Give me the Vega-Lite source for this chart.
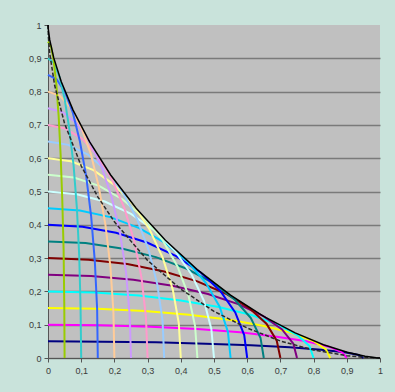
{
  "$schema": "https://vega.github.io/schema/vega-lite/v6.json",
  "width": 332,
  "height": 333,
  "autosize": {"type": "none"},
  "padding": {"left": 48, "top": 25, "right": 15, "bottom": 34},
  "background": "#C9E3DB",
  "config": {"view": {"fill": "#C0C0C0", "stroke": null}},
  "datasets": {
    "ell": [
      {"k":1,"x":0.95,"y":0},{"k":1,"x":0.936,"y":0.009},{"k":1,"x":0.893,"y":0.017},{"k":1,"x":0.823,"y":0.025},{"k":1,"x":0.728,"y":0.032},{"k":1,"x":0.611,"y":0.038},{"k":1,"x":0.475,"y":0.043},{"k":1,"x":0.325,"y":0.047},{"k":1,"x":0.165,"y":0.049},{"k":1,"x":0,"y":0.05},
      {"k":2,"x":0.9,"y":0},{"k":2,"x":0.886,"y":0.017},{"k":2,"x":0.846,"y":0.034},{"k":2,"x":0.779,"y":0.05},{"k":2,"x":0.689,"y":0.064},{"k":2,"x":0.579,"y":0.077},{"k":2,"x":0.45,"y":0.087},{"k":2,"x":0.308,"y":0.094},{"k":2,"x":0.156,"y":0.098},{"k":2,"x":0,"y":0.1},
      {"k":3,"x":0.85,"y":0},{"k":3,"x":0.837,"y":0.026},{"k":3,"x":0.799,"y":0.051},{"k":3,"x":0.736,"y":0.075},{"k":3,"x":0.651,"y":0.096},{"k":3,"x":0.546,"y":0.115},{"k":3,"x":0.425,"y":0.13},{"k":3,"x":0.291,"y":0.141},{"k":3,"x":0.148,"y":0.148},{"k":3,"x":0,"y":0.15},
      {"k":4,"x":0.8,"y":0},{"k":4,"x":0.788,"y":0.035},{"k":4,"x":0.752,"y":0.068},{"k":4,"x":0.693,"y":0.1},{"k":4,"x":0.613,"y":0.129},{"k":4,"x":0.514,"y":0.153},{"k":4,"x":0.4,"y":0.173},{"k":4,"x":0.274,"y":0.188},{"k":4,"x":0.139,"y":0.197},{"k":4,"x":0,"y":0.2},
      {"k":5,"x":0.75,"y":0},{"k":5,"x":0.739,"y":0.043},{"k":5,"x":0.705,"y":0.086},{"k":5,"x":0.65,"y":0.125},{"k":5,"x":0.575,"y":0.161},{"k":5,"x":0.482,"y":0.192},{"k":5,"x":0.375,"y":0.217},{"k":5,"x":0.257,"y":0.235},{"k":5,"x":0.13,"y":0.246},{"k":5,"x":0,"y":0.25},
      {"k":6,"x":0.7,"y":0},{"k":6,"x":0.689,"y":0.052},{"k":6,"x":0.658,"y":0.103},{"k":6,"x":0.606,"y":0.15},{"k":6,"x":0.536,"y":0.193},{"k":6,"x":0.45,"y":0.23},{"k":6,"x":0.35,"y":0.26},{"k":6,"x":0.239,"y":0.282},{"k":6,"x":0.122,"y":0.295},{"k":6,"x":0,"y":0.3},
      {"k":7,"x":0.65,"y":0},{"k":7,"x":0.64,"y":0.061},{"k":7,"x":0.611,"y":0.12},{"k":7,"x":0.563,"y":0.175},{"k":7,"x":0.498,"y":0.225},{"k":7,"x":0.418,"y":0.268},{"k":7,"x":0.325,"y":0.303},{"k":7,"x":0.222,"y":0.329},{"k":7,"x":0.113,"y":0.345},{"k":7,"x":0,"y":0.35},
      {"k":8,"x":0.6,"y":0},{"k":8,"x":0.591,"y":0.069},{"k":8,"x":0.564,"y":0.137},{"k":8,"x":0.52,"y":0.2},{"k":8,"x":0.46,"y":0.257},{"k":8,"x":0.386,"y":0.306},{"k":8,"x":0.3,"y":0.346},{"k":8,"x":0.205,"y":0.376},{"k":8,"x":0.104,"y":0.394},{"k":8,"x":0,"y":0.4},
      {"k":9,"x":0.55,"y":0},{"k":9,"x":0.542,"y":0.078},{"k":9,"x":0.517,"y":0.154},{"k":9,"x":0.476,"y":0.225},{"k":9,"x":0.421,"y":0.289},{"k":9,"x":0.354,"y":0.345},{"k":9,"x":0.275,"y":0.39},{"k":9,"x":0.188,"y":0.423},{"k":9,"x":0.096,"y":0.443},{"k":9,"x":0,"y":0.45},
      {"k":10,"x":0.5,"y":0},{"k":10,"x":0.492,"y":0.087},{"k":10,"x":0.47,"y":0.171},{"k":10,"x":0.433,"y":0.25},{"k":10,"x":0.383,"y":0.321},{"k":10,"x":0.321,"y":0.383},{"k":10,"x":0.25,"y":0.433},{"k":10,"x":0.171,"y":0.47},{"k":10,"x":0.087,"y":0.492},{"k":10,"x":0,"y":0.5},
      {"k":11,"x":0.45,"y":0},{"k":11,"x":0.443,"y":0.096},{"k":11,"x":0.423,"y":0.188},{"k":11,"x":0.39,"y":0.275},{"k":11,"x":0.345,"y":0.354},{"k":11,"x":0.289,"y":0.421},{"k":11,"x":0.225,"y":0.476},{"k":11,"x":0.154,"y":0.517},{"k":11,"x":0.078,"y":0.542},{"k":11,"x":0,"y":0.55},
      {"k":12,"x":0.4,"y":0},{"k":12,"x":0.394,"y":0.104},{"k":12,"x":0.376,"y":0.205},{"k":12,"x":0.346,"y":0.3},{"k":12,"x":0.306,"y":0.386},{"k":12,"x":0.257,"y":0.46},{"k":12,"x":0.2,"y":0.52},{"k":12,"x":0.137,"y":0.564},{"k":12,"x":0.069,"y":0.591},{"k":12,"x":0,"y":0.6},
      {"k":13,"x":0.35,"y":0},{"k":13,"x":0.345,"y":0.113},{"k":13,"x":0.329,"y":0.222},{"k":13,"x":0.303,"y":0.325},{"k":13,"x":0.268,"y":0.418},{"k":13,"x":0.225,"y":0.498},{"k":13,"x":0.175,"y":0.563},{"k":13,"x":0.12,"y":0.611},{"k":13,"x":0.061,"y":0.64},{"k":13,"x":0,"y":0.65},
      {"k":14,"x":0.3,"y":0},{"k":14,"x":0.295,"y":0.122},{"k":14,"x":0.282,"y":0.239},{"k":14,"x":0.26,"y":0.35},{"k":14,"x":0.23,"y":0.45},{"k":14,"x":0.193,"y":0.536},{"k":14,"x":0.15,"y":0.606},{"k":14,"x":0.103,"y":0.658},{"k":14,"x":0.052,"y":0.689},{"k":14,"x":0,"y":0.7},
      {"k":15,"x":0.25,"y":0},{"k":15,"x":0.246,"y":0.13},{"k":15,"x":0.235,"y":0.257},{"k":15,"x":0.217,"y":0.375},{"k":15,"x":0.192,"y":0.482},{"k":15,"x":0.161,"y":0.575},{"k":15,"x":0.125,"y":0.65},{"k":15,"x":0.086,"y":0.705},{"k":15,"x":0.043,"y":0.739},{"k":15,"x":0,"y":0.75},
      {"k":16,"x":0.2,"y":0},{"k":16,"x":0.197,"y":0.139},{"k":16,"x":0.188,"y":0.274},{"k":16,"x":0.173,"y":0.4},{"k":16,"x":0.153,"y":0.514},{"k":16,"x":0.129,"y":0.613},{"k":16,"x":0.1,"y":0.693},{"k":16,"x":0.068,"y":0.752},{"k":16,"x":0.035,"y":0.788},{"k":16,"x":0,"y":0.8},
      {"k":17,"x":0.15,"y":0},{"k":17,"x":0.148,"y":0.148},{"k":17,"x":0.141,"y":0.291},{"k":17,"x":0.13,"y":0.425},{"k":17,"x":0.115,"y":0.546},{"k":17,"x":0.096,"y":0.651},{"k":17,"x":0.075,"y":0.736},{"k":17,"x":0.051,"y":0.799},{"k":17,"x":0.026,"y":0.837},{"k":17,"x":0,"y":0.85},
      {"k":18,"x":0.1,"y":0},{"k":18,"x":0.098,"y":0.156},{"k":18,"x":0.094,"y":0.308},{"k":18,"x":0.087,"y":0.45},{"k":18,"x":0.077,"y":0.579},{"k":18,"x":0.064,"y":0.689},{"k":18,"x":0.05,"y":0.779},{"k":18,"x":0.034,"y":0.846},{"k":18,"x":0.017,"y":0.886},{"k":18,"x":0,"y":0.9},
      {"k":19,"x":0.05,"y":0},{"k":19,"x":0.049,"y":0.165},{"k":19,"x":0.047,"y":0.325},{"k":19,"x":0.043,"y":0.475},{"k":19,"x":0.038,"y":0.611},{"k":19,"x":0.032,"y":0.728},{"k":19,"x":0.025,"y":0.823},{"k":19,"x":0.017,"y":0.893},{"k":19,"x":0.009,"y":0.936},{"k":19,"x":0,"y":0.95}
    ],
    "dash": [
      {"x":0,"y":1},{"x":0.001,"y":0.966},{"x":0.005,"y":0.916},{"x":0.02,"y":0.819},{"x":0.05,"y":0.704},{"x":0.1,"y":0.577},{"x":0.15,"y":0.484},{"x":0.2,"y":0.409},{"x":0.3,"y":0.293},{"x":0.4,"y":0.207},{"x":0.5,"y":0.14},{"x":0.6,"y":0.09},{"x":0.7,"y":0.051},{"x":0.8,"y":0.024},{"x":0.9,"y":0.007},{"x":0.95,"y":0.002},{"x":1,"y":0}
    ],
    "ast": [
      {"x":0,"y":1},{"x":0.00066,"y":0.9886},{"x":0.00523,"y":0.9551},{"x":0.01733,"y":0.9012},{"x":0.04,"y":0.8298},{"x":0.0755,"y":0.7444},{"x":0.125,"y":0.6495},{"x":0.1887,"y":0.5497},{"x":0.2656,"y":0.4495},{"x":0.3536,"y":0.3536},{"x":0.4495,"y":0.2656},{"x":0.5497,"y":0.1887},{"x":0.6495,"y":0.125},{"x":0.7444,"y":0.0755},{"x":0.8298,"y":0.04},{"x":0.9012,"y":0.01733},{"x":0.9551,"y":0.00523},{"x":0.9886,"y":0.00066},{"x":1,"y":0}
    ]
  },
  "encoding": {
    "x": {
      "field": "x", "type": "quantitative",
      "scale": {"domain": [0, 1], "nice": false, "zero": false},
      "axis": {
        "title": null, "grid": false,
        "values": [0, 0.1, 0.2, 0.3, 0.4, 0.5, 0.6, 0.7, 0.8, 0.9, 1],
        "labelExpr": "replace(format(datum.value, '.1~f'), '.', ',')",
        "domainColor": "#555555", "tickColor": "#555555", "tickSize": 4,
        "labelFont": "Liberation Sans", "labelFontSize": 9, "labelColor": "#3a3a3a",
        "labelPadding": 4, "labelFlush": false, "labelOverlap": false
      }
    },
    "y": {
      "field": "y", "type": "quantitative",
      "scale": {"domain": [0, 1], "nice": false, "zero": false},
      "axis": {
        "title": null, "grid": true,
        "values": [0, 0.1, 0.2, 0.3, 0.4, 0.5, 0.6, 0.7, 0.8, 0.9, 1],
        "gridColor": {"condition": {"test": "datum.value >= 1", "value": "transparent"}, "value": "#7a7a7a"},
        "gridWidth": 1.5,
        "labelExpr": "replace(format(datum.value, '.1~f'), '.', ',')",
        "domainColor": "#555555", "tickColor": "#555555", "tickSize": 4,
        "labelFont": "Liberation Sans", "labelFontSize": 9, "labelColor": "#3a3a3a",
        "labelPadding": 3, "labelFlush": false, "labelOverlap": false
      }
    }
  },
  "layer": [
    {
      "data": {"name": "ell"},
      "mark": {"type": "line", "strokeWidth": 2},
      "encoding": {
        "color": {
          "field": "k", "type": "nominal", "legend": null,
          "scale": {
            "domain": [1,2,3,4,5,6,7,8,9,10,11,12,13,14,15,16,17,18,19],
            "range": ["#000080","#FF00FF","#FFFF00","#00FFFF","#800080","#800000","#008080","#0000FF","#00CCFF","#CCFFFF","#CCFFCC","#FFFF99","#99CCFF","#FF99CC","#CC99FF","#FFCC99","#3366FF","#33CCCC","#99CC00"]
          }
        }
      }
    },
    {
      "data": {"name": "dash"},
      "mark": {"type": "line", "color": "#2a2a2a", "strokeWidth": 1.5, "strokeDash": [4, 2]},
      "encoding": {}
    },
    {
      "data": {"name": "ast"},
      "mark": {"type": "line", "color": "#000000", "strokeWidth": 1.5},
      "encoding": {}
    }
  ]
}
